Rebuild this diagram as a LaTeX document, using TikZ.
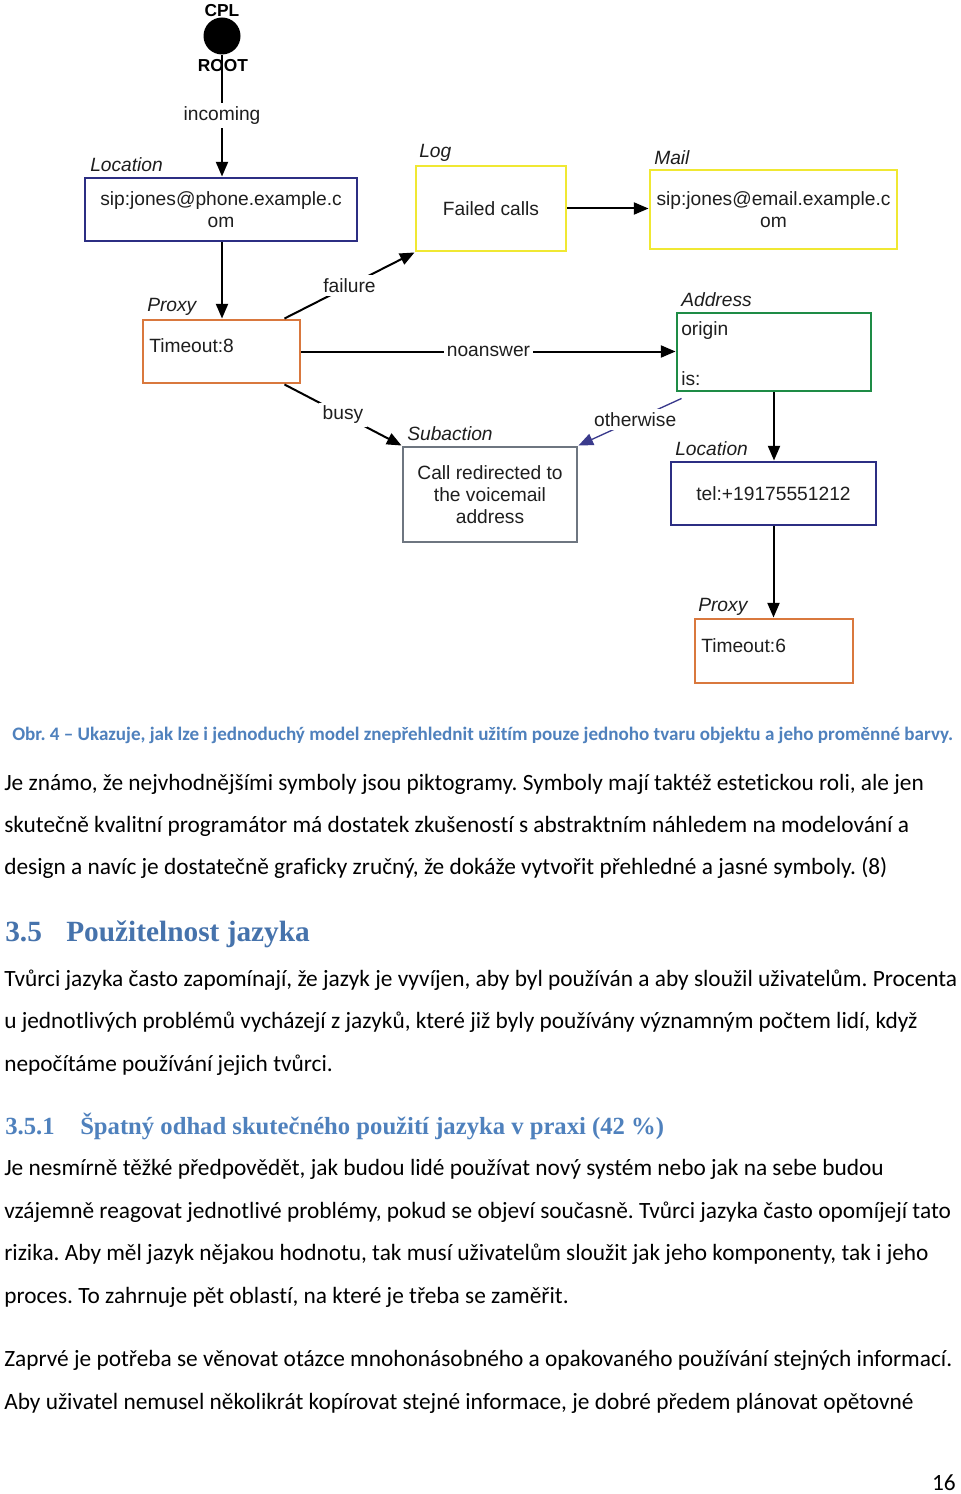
\documentclass[tikz,border=0pt]{standalone}
\usepackage{fontspec}
\setmainfont{Carlito}[Ligatures=CommonOff]
\newfontfamily\arialf{Liberation Sans}
\newfontfamily\headf{Liberation Serif}
\usetikzlibrary{arrows.meta,calc}
\definecolor{navyb}{RGB}{44,46,131}
\definecolor{yellowb}{RGB}{240,232,50}
\definecolor{orangeb}{RGB}{217,120,62}
\definecolor{greenb}{RGB}{30,140,70}
\definecolor{greyb}{RGB}{110,118,128}
\definecolor{otherblue}{RGB}{58,58,140}
\definecolor{headblue}{RGB}{79,129,189}
\definecolor{headblueA}{RGB}{70,115,172}
\definecolor{diagtext}{RGB}{30,30,30}
\frenchspacing
\begin{document}
\begin{tikzpicture}[x=0.75pt,y=-0.75pt,
  box/.style={draw, line width=2.2pt, fill=white, inner sep=0pt, text=diagtext,
    font=\arialf\fontsize{14.4}{16.5}\selectfont, align=center},
  inbox/.style={anchor=west, inner sep=0pt, text=diagtext, font=\arialf\fontsize{14.4}{16.5}\selectfont},
  lbl/.style={anchor=west, inner sep=0pt, text=diagtext, font=\arialf\itshape\fontsize{14.4}{16.5}\selectfont},
  elbl/.style={fill=white, inner sep=2.5pt, text=diagtext, font=\arialf\fontsize{14.4}{16.5}\selectfont},
  conn/.style={line width=1.5pt, -{Triangle[length=11pt,width=9pt]}},
  bodyline/.style={anchor=base west, inner sep=0pt, font=\fontsize{17.5}{20}\selectfont},
  cptxt/.style={anchor=center, inner sep=0pt, font=\arialf\bfseries\fontsize{13}{15}\selectfont}
]
\useasboundingbox (0,0) rectangle (960,1494);
\fill[white] (0,0) rectangle (960,1494);

% ---------- diagram ----------
\node[cptxt] (cpl) at (222,11) {CPL};
\node[circle, fill=black, minimum size=27.75pt, inner sep=0pt] (root) at (222,36) {};

\node[box, draw=navyb, minimum width=204pt, minimum height=47.25pt] (loc1) at (221,209.5)
  {sip:jones@phone.example.c\\om};
\node[box, draw=yellowb, minimum width=112.5pt, minimum height=63.75pt] (log) at (491,208.5)
  {Failed calls};
\node[box, draw=yellowb, minimum width=185.25pt, minimum height=59.25pt] (mail) at (773.5,209.5)
  {sip:jones@email.example.c\\om};
\node[box, draw=orangeb, minimum width=117.75pt, minimum height=47.25pt] (proxy1) at (221.5,351.5) {};
\node[inbox] (t8) at (149,346) {Timeout:8};
\node[box, draw=greenb, minimum width=145.5pt, minimum height=58.5pt] (addr) at (774,352) {};
\node[inbox] (orig) at (681,331) {origin};
\node[inbox] (isx) at (681,379) {is:};
\node[box, draw=greyb, minimum width=130.5pt, minimum height=71.25pt] (sub) at (490,494.5)
  {Call redirected to\\the voicemail\\address};
\node[box, draw=navyb, minimum width=153.75pt, minimum height=47.25pt] (loc2) at (773.5,493.5)
  {tel:+19175551212};
\node[box, draw=orangeb, minimum width=118.5pt, minimum height=48pt] (proxy2) at (774,651) {};
\node[inbox] (t6) at (701,646) {Timeout:6};

% labels of boxes
\node[lbl] (lloc1) at (90,165) {Location};
\node[lbl] (llog) at (419,153) {Log};
\node[lbl] (lmail) at (654,158) {Mail};
\node[lbl] (lproxy1) at (147,307) {Proxy};
\node[lbl] (laddr) at (681,300) {Address};
\node[lbl] (lsub) at (407,434) {Subaction};
\node[lbl] (lloc2) at (675,449) {Location};
\node[lbl] (lproxy2) at (698,607) {Proxy};

% connectors
\draw[conn] (root.south) -- (root.south |- loc1.north) node[elbl, midway] {incoming};
\node[cptxt] (rootl) at (223,66) {ROOT};
\draw[conn] (loc1.south -| root) -- (proxy1.north -| root);
\draw[conn] ($(proxy1.north east)+(-17,0)$) -- (log.south west) node[elbl, midway] {failure};
\draw[conn] (log.east) -- (log.east -| mail.west);
\draw[conn] (proxy1.east) -- (proxy1.east -| addr.west) node[elbl, midway] {noanswer};
\draw[conn] ($(proxy1.south east)+(-17,0)$) -- (sub.north west) node[elbl, midway] {busy};
\draw[line width=1pt, draw=otherblue, -{Triangle[length=11pt,width=9pt,fill=otherblue]}]
  ($(addr.south west)+(6,6)$) -- (sub.north east) node[elbl, pos=0.45] {otherwise};
\draw[conn] (addr.south) -- (addr.south |- loc2.north);
\draw[conn] (loc2.south) -- (loc2.south |- proxy2.north);

% ---------- text ----------
\node[anchor=base west, inner sep=0pt, text=headblue, font=\bfseries\fontsize{14.3}{16}\selectfont] (cap) at (12,740)
  {Obr. 4 – Ukazuje, jak lze i jednoduchý model znepřehlednit užitím pouze jednoho tvaru objektu a jeho proměnné barvy.};

\node[bodyline] (p1a) at (4,790) {Je známo, že nejvhodnějšími symboly jsou piktogramy. Symboly mají taktéž estetickou roli, ale jen};
\node[bodyline] (p1b) at (4,832) {skutečně kvalitní programátor má dostatek zkušeností s abstraktním náhledem na modelování a};
\node[bodyline] (p1c) at (4,874) {design a navíc je dostatečně graficky zručný, že dokáže vytvořit přehledné a jasné symboly. (8)};

\node[anchor=base west, inner sep=0pt, text=headblueA, font=\headf\bfseries\fontsize{22}{24}\selectfont] (h1n) at (5,941) {3.5};
\node[anchor=base west, inner sep=0pt, text=headblueA, font=\headf\bfseries\fontsize{22}{24}\selectfont] (h1t) at (66,941) {Použitelnost jazyka};

\node[bodyline] (p2a) at (4,986) {Tvůrci jazyka často zapomínají, že jazyk je vyvíjen, aby byl používán a aby sloužil uživatelům. Procenta};
\node[bodyline] (p2b) at (4,1028) {u jednotlivých problémů vycházejí z jazyků, které již byly používány významným počtem lidí, když};
\node[bodyline] (p2c) at (4,1071) {nepočítáme používání jejich tvůrci.};

\node[anchor=base west, inner sep=0pt, text=headblue, font=\headf\bfseries\fontsize{18.5}{20}\selectfont] (h2n) at (5,1134) {3.5.1};
\node[anchor=base west, inner sep=0pt, text=headblue, font=\headf\bfseries\fontsize{18.5}{20}\selectfont] (h2t) at (80,1134) {Špatný odhad skutečného použití jazyka v praxi (42 \%)};

\node[bodyline] (p3a) at (4,1175) {Je nesmírně těžké předpovědět, jak budou lidé používat nový systém nebo jak na sebe budou};
\node[bodyline] (p3b) at (4,1218) {vzájemně reagovat jednotlivé problémy, pokud se objeví současně. Tvůrci jazyka často opomíjejí tato};
\node[bodyline] (p3c) at (4,1260) {rizika. Aby měl jazyk nějakou hodnotu, tak musí uživatelům sloužit jak jeho komponenty, tak i jeho};
\node[bodyline] (p3d) at (4,1303) {proces. To zahrnuje pět oblastí, na které je třeba se zaměřit.};

\node[bodyline] (p4a) at (4,1366) {Zaprvé je potřeba se věnovat otázce mnohonásobného a opakovaného používání stejných informací.};
\node[bodyline] (p4b) at (4,1409) {Aby uživatel nemusel několikrát kopírovat stejné informace, je dobré předem plánovat opětovné};

\node[anchor=base east, inner sep=0pt, font=\fontsize{17.5}{20}\selectfont] (pg) at (956,1490) {16};
\end{tikzpicture}
\end{document}
